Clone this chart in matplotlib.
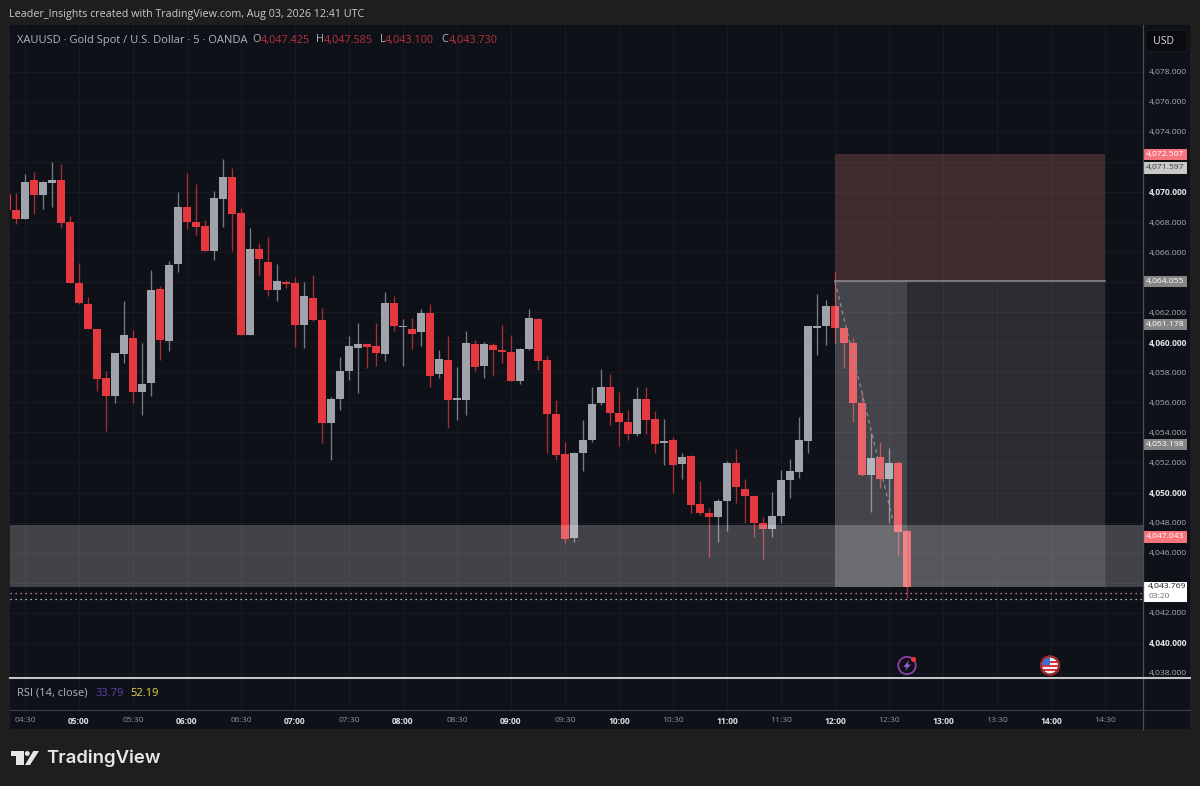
import matplotlib
matplotlib.use("Agg")
import matplotlib.pyplot as plt
from matplotlib.patches import Circle, FancyBboxPatch, Polygon, Rectangle

plt.rcParams["font.family"] = ["Open Sans", "DejaVu Sans"]

# 5 minute candles, first one is 04:20
opens = [4069.85, 4068.83, 4068.20, 4070.80, 4069.78, 4070.58, 4070.80, 4067.98, 4063.97, 4062.57,
         4060.91, 4057.60, 4056.43, 4059.25, 4060.29, 4056.67, 4057.29, 4063.55, 4060.09, 4065.19,
         4068.98, 4068.03, 4067.74, 4066.10, 4069.56, 4070.98, 4068.58, 4060.49, 4066.19, 4065.37,
         4063.48, 4063.99, 4063.92, 4061.15, 4062.93, 4061.46, 4054.61, 4056.21, 4058.11, 4059.62,
         4059.87, 4059.75, 4059.24, 4062.64, 4061.00, 4060.86, 4060.66, 4061.93, 4057.87, 4058.80,
         4056.18, 4056.16, 4059.91, 4058.40, 4059.82, 4059.49, 4059.36, 4057.45, 4059.55, 4061.53,
         4058.80, 4055.23, 4052.57, 4047.00, 4052.61, 4053.48, 4055.94, 4057.05, 4055.32, 4054.70,
         4053.92, 4056.23, 4054.92, 4053.32, 4053.48, 4051.88, 4052.44, 4049.24, 4048.67, 4048.40,
         4049.42, 4051.99, 4050.26, 4049.78, 4047.98, 4047.58, 4048.42, 4050.82, 4051.35, 4053.46,
         4060.97, 4061.11, 4062.42, 4060.93, 4059.93, 4055.98, 4051.17, 4052.37, 4050.93, 4051.95,
         4047.425]
highs = [4069.85, 4069.96, 4071.18, 4071.35, 4070.75, 4072.00, 4071.86, 4068.40, 4065.30, 4062.99,
         4060.91, 4058.11, 4059.27, 4062.77, 4060.82, 4059.98, 4064.81, 4063.75, 4065.43, 4070.00,
         4071.24, 4070.53, 4068.14, 4070.09, 4072.17, 4071.58, 4068.91, 4067.61, 4066.59, 4066.98,
         4065.21, 4064.15, 4064.37, 4064.03, 4064.48, 4062.26, 4056.34, 4059.00, 4060.42, 4061.26,
         4059.87, 4061.26, 4063.37, 4063.08, 4061.57, 4061.59, 4062.22, 4062.55, 4059.49, 4060.42,
         4058.38, 4060.77, 4060.13, 4060.00, 4059.98, 4061.13, 4060.49, 4059.60, 4062.19, 4061.62,
         4059.09, 4056.16, 4053.39, 4052.70, 4054.81, 4057.00, 4058.22, 4057.89, 4056.67, 4055.50,
         4057.05, 4057.05, 4055.45, 4054.90, 4053.68, 4052.61, 4052.48, 4050.75, 4048.95, 4049.55,
         4052.13, 4052.88, 4050.93, 4049.82, 4048.40, 4050.04, 4051.50, 4052.21, 4055.05, 4061.11,
         4063.21, 4062.82, 4064.68, 4060.93, 4060.26, 4056.65, 4053.99, 4053.39, 4052.95, 4052.10,
         4047.585]
lows = [4068.80, 4067.85, 4068.20, 4068.54, 4068.89, 4068.98, 4067.61, 4063.97, 4062.53, 4060.86,
        4056.78, 4054.10, 4055.94, 4058.60, 4055.94, 4055.19, 4056.43, 4058.82, 4059.40, 4064.68,
        4067.52, 4067.16, 4066.10, 4065.48, 4067.69, 4066.10, 4060.49, 4060.49, 4064.50, 4063.08,
        4062.77, 4063.61, 4059.67, 4059.62, 4061.44, 4053.32, 4052.15, 4055.50, 4057.49, 4056.61,
        4058.29, 4058.42, 4058.73, 4060.77, 4058.42, 4059.53, 4059.75, 4057.00, 4057.63, 4054.30,
        4054.83, 4055.19, 4058.09, 4057.63, 4057.76, 4058.60, 4057.40, 4057.25, 4059.47, 4058.16,
        4052.66, 4052.17, 4046.63, 4046.74, 4051.44, 4053.37, 4055.85, 4054.52, 4053.10, 4053.50,
        4053.79, 4053.90, 4052.61, 4051.86, 4049.95, 4050.91, 4048.62, 4048.49, 4045.74, 4046.74,
        4047.47, 4049.29, 4048.00, 4047.03, 4045.52, 4047.03, 4047.96, 4049.64, 4051.00, 4052.66,
        4059.18, 4059.82, 4059.89, 4058.31, 4054.68, 4051.11, 4048.69, 4050.31, 4048.00, 4045.83,
        4043.01]
closes = [4068.80, 4068.20, 4070.67, 4069.78, 4070.64, 4070.78, 4067.96, 4063.97, 4062.59, 4060.86,
          4057.58, 4056.41, 4059.27, 4060.46, 4056.72, 4057.25, 4063.48, 4060.15, 4065.14, 4068.98,
          4068.00, 4067.65, 4066.10, 4069.62, 4071.00, 4068.54, 4060.49, 4066.21, 4065.52, 4063.50,
          4064.06, 4063.86, 4061.15, 4063.06, 4061.48, 4054.61, 4056.21, 4058.11, 4059.73, 4059.91,
          4059.67, 4059.31, 4062.64, 4061.08, 4061.11, 4060.57, 4061.93, 4057.76, 4058.87, 4056.16,
          4056.29, 4059.93, 4058.36, 4059.87, 4059.47, 4059.36, 4057.45, 4059.55, 4061.62, 4058.78,
          4055.23, 4052.50, 4046.94, 4052.61, 4053.50, 4055.92, 4057.05, 4055.27, 4054.68, 4053.92,
          4056.25, 4054.85, 4053.23, 4053.43, 4051.84, 4052.39, 4049.20, 4048.62, 4048.38, 4049.44,
          4051.97, 4050.37, 4049.78, 4047.96, 4047.58, 4048.42, 4050.82, 4051.44, 4053.50, 4061.11,
          4061.11, 4062.44, 4060.97, 4059.93, 4055.94, 4051.17, 4052.33, 4050.91, 4051.95, 4047.36,
          4043.73]

time_labels = ["04:30", "05:00", "05:30", "06:00", "06:30", "07:00", "07:30", "08:00", "08:30", "09:00",
               "09:30", "10:00", "10:30", "11:00", "11:30", "12:00", "12:30", "13:00", "13:30", "14:00",
               "14:30"]
# 4072, 4064 and 4044 sit under the price tags in the reference
price_ticks = list(range(4038, 4080, 2))

stop_level = 4072.507
entry_level = 4064.055
target_level = 4043.73
zone_top = 4047.84
zone_bottom = 4043.73
dotted_levels = [4043.30, 4042.94]
dash_from = (92, 4064.05)
dash_to = (98.5, 4048.0)

tag_levels = [4071.597, 4072.507, 4064.055, 4061.178, 4053.198, 4047.043]
tag_colors = ["#c9c9c9", "#f7747c", "#858585", "#858585", "#858585", "#f7747c"]
tag_text = ["#3a3a3a", "#ffffff", "#ffffff", "#ffffff", "#ffffff", "#ffffff"]

PAGE = "#1e1e1e"
PANE = "#0f1118"
GRID = "#171a21"
RED = "#e5383f"
GREY = "#a0a2ac"
TXT = "#b2b5be"
W, H = 1200, 786


def px_axes(fig, x0, y0, x1, y1, **kw):
    return fig.add_axes([x0 / W, 1 - y1 / H, (x1 - x0) / W, (y1 - y0) / H], **kw)


fig = plt.figure(figsize=(12, 7.86), dpi=100, facecolor=PAGE)

# pane limits, candle i sits at 7 + 9 * i pixels
xlim = (1 / 3, 1136 / 9 + 0.0)
ylim = (4037.66, 4081.11)
ticks_x = list(range(2, 2 + 6 * len(time_labels), 6))

back = px_axes(fig, 1143, 25, 1190, 729, facecolor=PANE, zorder=-1)
back.set_xticks([])
back.set_yticks([])
for s in back.spines.values():
    s.set_visible(False)

ax = px_axes(fig, 10, 25, 1143, 678, facecolor=PANE)
ax.set_xlim(xlim)
ax.set_ylim(ylim)
ax.set_xticks(ticks_x)
ax.set_xticklabels([])
ax.set_yticks(price_ticks)
ax.set_yticklabels([f"{p:,.3f}" for p in price_ticks])
ax.yaxis.tick_right()
ax.tick_params(axis="both", length=0)
ax.tick_params(axis="y", pad=4.2, labelsize=6.1, labelcolor="#a9acb5")
for lab, p in zip(ax.get_yticklabels(), price_ticks):
    if p % 10 == 0:
        lab.set_color("#e4e5ea")
        lab.set_fontweight("bold")
    if p in (4072, 4064, 4044):
        lab.set_visible(False)
ax.grid(color=GRID, linewidth=0.8)
ax.set_axisbelow(True)
for s in ax.spines.values():
    s.set_visible(False)

# candles
for i in range(len(opens)):
    up = closes[i] >= opens[i]
    c = GREY if up else RED
    ax.vlines(i, lows[i], highs[i], color=c, linewidth=0.95, alpha=0.72, zorder=2)
    ax.bar(i, abs(closes[i] - opens[i]), bottom=min(opens[i], closes[i]), width=0.78, color=c, zorder=3)

# position tool and zone on top of the candles
ax.add_patch(Rectangle((92, entry_level), 30, stop_level - entry_level, color="#cf7570", alpha=0.25, lw=0, zorder=4))
ax.add_patch(Rectangle((92, target_level), 30, entry_level - target_level, color="#ffffff", alpha=0.115, lw=0, zorder=4))
ax.add_patch(Rectangle((92, target_level), 8, entry_level - target_level, color="#ffffff", alpha=0.12, lw=0, zorder=4))
ax.add_patch(Rectangle((xlim[0], zone_bottom), xlim[1] - xlim[0], zone_top - zone_bottom, color="#ffffff", alpha=0.21, lw=0, zorder=4))
ax.plot([92, 122], [entry_level, entry_level], color="#8f8f8f", lw=1.1, zorder=5)
ax.plot([dash_from[0], dash_to[0]], [dash_from[1], dash_to[1]], color="#8d8f97", lw=0.9, ls=(0, (3, 3)), zorder=5)
ax.axhline(dotted_levels[0], color="#e89aa0", lw=0.9, ls=(0, (1, 3)), zorder=5)
ax.axhline(dotted_levels[1], color="#e8e8e8", lw=0.9, ls=(0, (1, 3)), zorder=5)

# price tags above the axis labels
tags = px_axes(fig, 1143, 25, 1187, 678, facecolor="none", zorder=5)
tags.set_xlim(0, 1)
tags.set_ylim(ylim)
tags.axis("off")
for lvl, col, tc in zip(tag_levels, tag_colors, tag_text):
    tags.add_patch(Rectangle((0, lvl - 0.37), 1, 0.74, color=col, lw=0))
    tags.text(0.5, lvl, f"{lvl:,.3f}", color=tc, fontsize=6.1, ha="center", va="center")
tags.add_patch(Rectangle((0, 4042.72), 1, 1.33, color="#ffffff", lw=0))
tags.text(0.12, 4043.75, "4,043.769", color="#16181f", fontsize=6.1, ha="left", va="center")
tags.text(0.12, 4043.08, "03:20", color="#6a6d78", fontsize=6.1, ha="left", va="center")

# rsi strip and time axis
rsi = px_axes(fig, 10, 678, 1143, 710, facecolor=PANE)
rsi.set_xlim(xlim)
rsi.set_yticks([])
rsi.set_xticks(ticks_x)
rsi.set_xticklabels([])
rsi.tick_params(length=0)
rsi.grid(color=GRID, linewidth=0.8)
rsi.set_axisbelow(True)
for s in rsi.spines.values():
    s.set_visible(False)

tax = px_axes(fig, 10, 710, 1143, 729, facecolor=PANE)
tax.set_xlim(xlim)
tax.set_yticks([])
tax.set_xticks(ticks_x)
tax.set_xticklabels(time_labels, fontsize=6.1)
tax.tick_params(axis="x", length=0, pad=-8.8, labelcolor="#8f929c")
for lab, t in zip(tax.get_xticklabels(), time_labels):
    if t.endswith(":00"):
        lab.set_color("#dfe0e5")
        lab.set_fontweight("bold")
for s in tax.spines.values():
    s.set_visible(False)

# chrome drawn in pixel coordinates
deco = fig.add_axes([0, 0, 1, 1], facecolor="none", zorder=6)
deco.set_xlim(0, W)
deco.set_ylim(H, 0)
deco.axis("off")
deco.plot([1143, 1143], [25, 729], color="#4b4e57", lw=0.9)
deco.plot([10, 1190], [678, 678], color="#c4c5c7", lw=1.5)
deco.plot([10, 1190], [710, 710], color="#3a3d46", lw=0.9)
deco.add_patch(FancyBboxPatch((1146, 30), 41, 22, boxstyle="round,pad=0,rounding_size=3", fc="#0a0b0e", ec="#1a1c22", lw=0.8))
deco.text(1164, 41, "USD", color="#d8d9dd", fontsize=7.6, ha="center", va="center")

deco.text(9, 14, "Leader_Insights created with TradingView.com, Aug 03, 2026 12:41 UTC", color="#c9cad0", fontsize=7.75, va="center")
deco.text(17, 40, "XAUUSD · Gold Spot / U.S. Dollar · 5 · OANDA", color=TXT, fontsize=8.0, va="center")
for x_l, letter, x_v, val in [(252, "O", 261, "4,047.425"), (316, "H", 324, "4,047.585"),
                              (380, "L", 385, "4,043.100"), (441, "C", 449, "4,043.730")]:
    deco.text(x_l, 40, letter, color=TXT, fontsize=7.8, va="center")
    deco.text(x_v, 40, val, color="#b9323c", fontsize=7.8, va="center")
deco.text(17, 693, "RSI (14, close)", color=TXT, fontsize=8.0, va="center")
deco.text(96, 693, "33.79", color="#5f41a8", fontsize=8.0, va="center")
deco.text(130, 693, "52.19", color="#e8d44d", fontsize=8.0, va="center")

# TradingView mark
deco.add_patch(Rectangle((11, 751), 12.5, 5, color="#e6e6e6", lw=0))
deco.add_patch(Rectangle((16, 751), 7.5, 14, color="#e6e6e6", lw=0))
deco.add_patch(Circle((27.3, 753.5), 2.4, color="#e6e6e6", lw=0))
deco.add_patch(Polygon([(25, 765), (30, 765), (39, 751), (33.3, 751)], color="#e6e6e6", lw=0))
deco.text(46, 758, "TradingView", color="#e6e6e6", fontsize=13.4, fontweight="semibold", family="Inter", va="center")

# event icons
deco.add_patch(Circle((907, 665.5), 8.7, fc="none", ec="#8e3fa8", lw=1.3))
deco.add_patch(Polygon([(909, 660), (903.5, 667), (906.5, 667), (905, 671), (911, 664.5), (907.8, 664.5)], color="#9b59c9", lw=0))
deco.add_patch(Circle((913.5, 659.5), 2.6, color="#e8343c", lw=0))

flag = Circle((1050, 665.5), 8, fc="#f2f2f2", lw=0)
deco.add_patch(flag)
for k in range(3):
    st = Rectangle((1041, 661 + k * 4), 18, 2, color="#d5343c", lw=0)
    deco.add_patch(st)
    st.set_clip_path(flag)
can = Rectangle((1041, 657), 9, 8, color="#3a6fd0", lw=0)
deco.add_patch(can)
can.set_clip_path(flag)
deco.add_patch(Circle((1050, 665.5), 9.3, fc="none", ec="#b3262e", lw=1.3))

fig.savefig("out.png", dpi=100, facecolor=PAGE)
plt.close(fig)
